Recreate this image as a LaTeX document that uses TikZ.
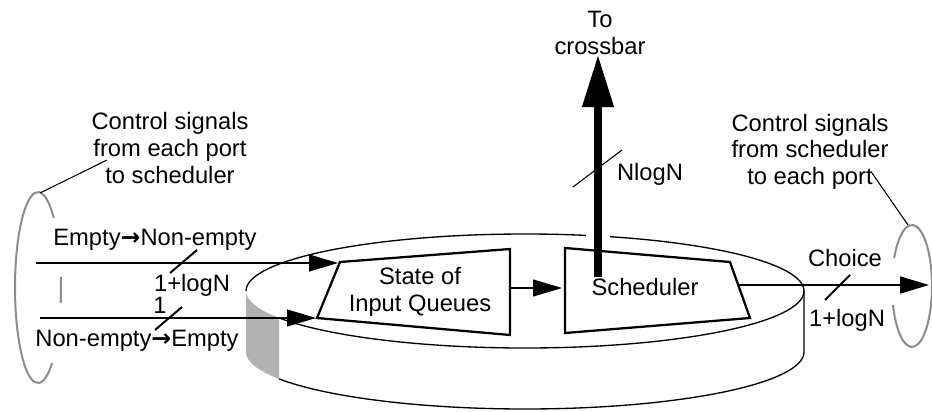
\documentclass[tikz,border=0pt]{standalone}
\usepackage{fontspec}
\setmainfont{Liberation Sans}
\newfontfamily\arrowfont{DejaVu Sans}
\newcommand{\myarrow}{{\arrowfont\bfseries →}}
\usetikzlibrary{arrows.meta}
\definecolor{ringgray}{gray}{0.55}
\definecolor{shadegray}{gray}{0.7}
\begin{document}
\begin{tikzpicture}[x=0.75pt,y=-0.75pt,
  lbl/.style={font=\fontsize{17.8}{19.9}\selectfont, inner sep=0pt, align=center},
  ring/.style={draw=ringgray, line width=1.5pt},
  disc/.style={line width=1pt},
  boxshape/.style={draw, line width=1.7pt, line join=miter, fill=white},
  sig/.style={line width=0.9pt, -{Triangle[length=21.75pt,width=12.75pt]}},
  outsig/.style={line width=1.3pt, -{Triangle[length=21.75pt,width=12.75pt]}},
  bigsig/.style={line width=5.5pt, -{Triangle[length=39pt,width=22.5pt]}},
  tick/.style={line width=1.5pt},
  thintick/.style={line width=0.8pt},
  pointer/.style={line width=0.8pt}
]
\useasboundingbox (0,0) rectangle (932,411);

% ---- left ring of control signals
\draw[ring] (52.1,363.0) arc[start angle=52.2,end angle=313.3,x radius=23,y radius=95.5];
\draw[ring] (60.86,277.0) arc[start angle=-6.3,end angle=9.3,x radius=23,y radius=95.5];
% ---- right ring
\draw[ring] (894.2,258.0) arc[start angle=207.3,end angle=521.9,x radius=20,y radius=61];

% ---- disc
\fill[shadegray] (246,291) -- (246,352)
  arc[start angle=180,end angle=151.8,x radius=279,y radius=57]
  -- (279.1,317.9)
  arc[start angle=151.8,end angle=180,x radius=279,y radius=57] -- cycle;
\draw[disc] (246,291) arc[start angle=180,end angle=511.8,x radius=279,y radius=57];
\draw[disc] (804,291) -- (804,352)
  arc[start angle=0,end angle=151.8,x radius=279,y radius=57];
% white border of the thick arrow
\draw[white, line width=18pt] (598,226) -- (598,246);

% ---- boxes
\draw[boxshape] (340,262) -- (510,249) -- (510,335) -- (317,318) -- cycle;
\draw[boxshape] (565,248) -- (730,262) -- (750,318) -- (565,333) -- cycle;
\node[lbl] (state) at (420,292) {State of\\Input Queues};
\node[lbl, anchor=base] (sched) at (645,295.5) {Scheduler};

% ---- named connector ends
\coordinate (inA) at (36,263);
\coordinate (stA) at (338,263);
\coordinate (inB) at (40,318);
\coordinate (stB) at (316,318);
\coordinate (stOut) at (510,288);
\coordinate (scIn) at (562,288);
\coordinate (scUp) at (598,277);
\coordinate (xbar) at (598,55);
\coordinate (scOut) at (738,285);
\coordinate (port) at (929,285);
\coordinate (ringL) at (40,193);
\coordinate (noteL) at (107,160);
\coordinate (ringR) at (908,225);
\coordinate (noteR) at (872,173);

% ---- connectors
\draw[sig] (inA) -- (stA);
\draw[sig] (inB) -- (stB);
\draw[sig] (stOut) -- (scIn);
\draw[bigsig] (scUp) -- (xbar);
\draw[outsig] (scOut) -- (port);
\draw[pointer] (ringL) -- (noteL);
\draw[pointer] (ringR) -- (noteR);

% ---- bus-width ticks
\draw[tick] (170,273) -- (197,250);
\draw[tick] (155,330) -- (182,307);
\draw[thintick] (573,187) -- (622,150);
\draw[tick] (825,300) -- (850,275);

% ---- labels
\node[lbl] (noteLtxt) at (170,148) {Control signals\\from each port\\to scheduler};
\node[lbl] (noteRtxt) at (810,151.75) {Control signals\\from scheduler\\to each port};
\node[lbl] (xbartxt) at (600,33) {To\\crossbar};
\node[lbl, anchor=base] (en) at (155,245.5) {Empty\myarrow Non-empty};
\node[lbl, anchor=base] (wA) at (192,291.5) {1+logN};
\node[lbl, anchor=base] (wB) at (160,313.5) {1};
\node[lbl, anchor=base] (ne) at (137,346.5) {Non-empty\myarrow Empty};
\node[lbl, anchor=base] (wX) at (650,180.5) {NlogN};
\node[lbl, anchor=base] (ch) at (845,266.5) {Choice};
\node[lbl, anchor=base] (wC) at (847,326.5) {1+logN};
\end{tikzpicture}
\end{document}
